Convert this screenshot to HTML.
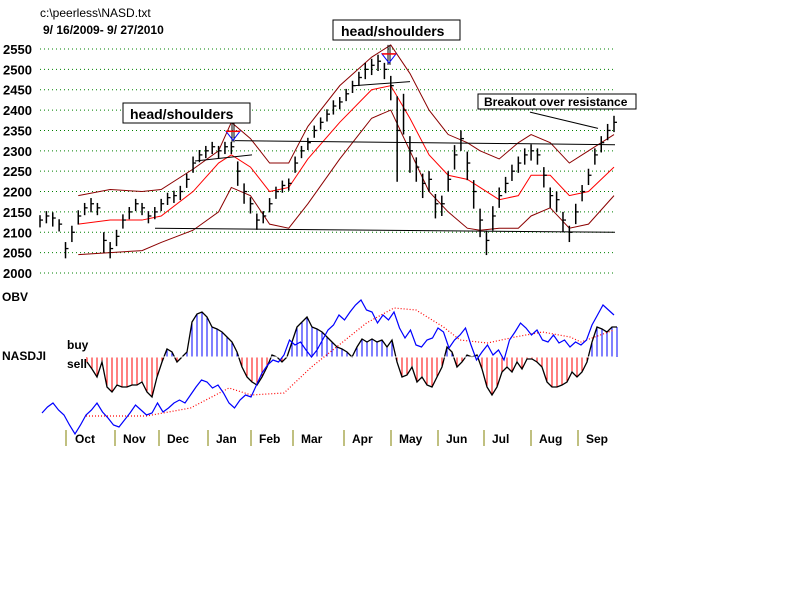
<!DOCTYPE html>
<html><head><meta charset="utf-8"><style>
body{margin:0;background:#fff;}
svg{display:block;font-family:"Liberation Sans",sans-serif;}
</style></head><body>
<svg id="c" width="800" height="600">
<rect width="800" height="600" fill="#fff"/>
<text x="40" y="17" font-size="12">c:\peerless\NASD.txt</text>
<text x="43" y="34" font-size="12" font-weight="bold">9/ 16/2009- 9/ 27/2010</text>
<g id="grid"></g>
<g id="bands"></g>
<g id="lines"></g>
<g id="bars"></g>
<g id="lower"></g>
<rect x="123" y="103" width="127" height="20" fill="#fff" stroke="#000"/>
<text x="130" y="119" font-size="14" font-weight="bold">head/shoulders</text>
<rect x="333" y="20" width="127" height="20" fill="#fff" stroke="#000"/>
<text x="341" y="36" font-size="14" font-weight="bold">head/shoulders</text>
<rect x="478" y="94" width="158" height="15" fill="#fff" stroke="#000"/>
<text x="484" y="106" font-size="12" font-weight="bold">Breakout over resistance</text>
<text x="2" y="301" font-size="12" font-weight="bold">OBV</text>
<text x="2" y="360" font-size="12" font-weight="bold">NASDJI</text>
<text x="67" y="349" font-size="12" font-weight="bold">buy</text>
<text x="67" y="368" font-size="12" font-weight="bold">sell</text>
</svg>
<script>
const yTicks=[2550,2500,2450,2400,2350,2300,2250,2200,2150,2100,2050,2000];
const closes=[2130,2140,2135,2120,2060,2100,2140,2160,2170,2160,2080,2060,2090,2130,2150,2170,2160,2140,2150,2170,2185,2190,2200,2230,2270,2290,2300,2310,2300,2310,2310,2250,2200,2170,2130,2140,2170,2200,2215,2220,2270,2300,2320,2350,2370,2390,2410,2420,2440,2460,2480,2500,2510,2520,2500,2460,2350,2400,2300,2260,2220,2230,2170,2170,2230,2290,2330,2270,2200,2130,2080,2140,2190,2220,2250,2270,2290,2300,2290,2240,2190,2180,2130,2100,2150,2200,2240,2290,2320,2350,2370];
const ranges=[30,30,35,30,40,40,35,30,35,30,50,40,40,35,30,30,30,30,30,30,30,30,35,35,40,30,30,30,30,30,30,60,50,40,40,30,35,30,30,30,40,30,30,30,30,30,35,30,30,30,35,40,40,40,40,60,210,100,90,60,60,50,60,50,50,60,50,70,70,70,60,60,50,40,40,40,40,40,40,50,50,50,50,40,50,40,40,40,40,40,40];
const bandDays=[6,11,16,19,24,28,30,33,36,39,42,47,52,55,58,61,64,67,69,72,75,77,80,83,86,90];
const midBand=[2120,2130,2130,2140,2200,2270,2290,2260,2200,2210,2280,2370,2450,2460,2380,2290,2240,2230,2210,2180,2190,2240,2240,2190,2200,2260];
const upperBand=[2190,2205,2200,2205,2255,2300,2370,2330,2270,2270,2360,2460,2530,2560,2490,2400,2340,2320,2300,2280,2320,2340,2320,2270,2300,2340];
const lowerBand=[2045,2050,2055,2075,2105,2150,2210,2190,2120,2110,2170,2280,2380,2400,2300,2200,2150,2110,2105,2110,2110,2140,2160,2110,2120,2190];
const nasdji=[-5,-12,-20,-5,-30,-35,-28,-30,-30,-28,-28,-25,-35,-40,-20,-5,8,5,-5,0,5,35,43,45,40,30,28,25,20,15,5,-10,-20,-25,-28,-20,-10,2,0,-5,0,15,30,35,40,30,28,25,20,15,10,8,5,0,10,18,15,18,15,17,10,17,-5,-20,-18,-10,-25,-20,-28,-30,-20,-10,10,5,-10,-5,2,0,2,-12,-30,-38,-30,-15,-10,-15,-5,-12,-2,-2,-5,-10,-25,-30,-30,-28,-25,-15,-20,-15,-5,15,30,28,25,30,30];
const obv=[27,33,37,30,25,15,6,15,25,30,37,28,22,15,13,20,27,35,30,25,27,37,28,32,37,40,37,45,53,60,58,52,55,47,37,32,40,45,43,55,67,75,80,78,85,100,95,98,90,83,90,100,110,115,125,120,128,135,140,130,128,117,125,120,128,112,102,110,95,93,100,102,112,108,92,100,105,112,95,80,88,95,85,90,80,100,108,117,112,105,110,100,98,105,97,100,93,98,95,100,115,125,135,130,125];
const obvMA=[24,24,32,52,45,47,73,95,117,132,130,113,100,97,103,108,103,98,110];
const obvMADays=[8,19,27,34,38,44,49,54,59,64,68,73,76,81,86,91,96,98,104];
const months=["Oct","Nov","Dec","Jan","Feb","Mar","Apr","May","Jun","Jul","Aug","Sep"];
const monthTicks=[66,115,159,208,251,293,344,391,438,484,531,578];

const NS="http://www.w3.org/2000/svg";
function mk(t,p,a){const e=document.createElementNS(NS,t);for(const k in a)e.setAttribute(k,a[k]);p.appendChild(e);return e;}
const py=v=>49+(2550-v)*224/550;
const px=i=>40+i*574/(closes.length-1);
const G=document.getElementById('grid'),B=document.getElementById('bands'),L=document.getElementById('lines'),BR=document.getElementById('bars'),LW=document.getElementById('lower');
yTicks.forEach(v=>{
 const l=mk('line',G,{x1:40,x2:615,y1:py(v),y2:py(v),stroke:'#008000','stroke-dasharray':'1 3','stroke-width':1});
 
 
 const t=mk('text',G,{x:3,y:py(v)+5,'font-size':13,'font-weight':'bold'});t.textContent=v;
 
 
});
function band(arr,col,name){
 const p=mk('polyline',B,{points:arr.map((v,k)=>px(bandDays[k])+','+py(v)).join(' '),fill:'none',stroke:col,'stroke-width':1});
 
 
}
band(upperBand,'#8b0000','upper-band');band(midBand,'#ff0000','middle-band');band(lowerBand,'#8b0000','lower-band');
[[235,2325,615,2315,'resistance-line'],[155,2110,615,2100,'support-line'],[195,2275,252,2290,'left-neckline'],[355,2460,410,2470,'head-neckline'],[530,2395,598,2355,'breakout-pointer']].forEach(s=>{
 const l=mk('line',L,{x1:s[0],y1:py(s[1]),x2:s[2],y2:py(s[3]),stroke:'#000','stroke-width':1});
 
 
});
[[233,2370],[389,2560]].forEach(a=>{
 const g=mk('g',L,{});
 
 
 mk('line',g,{x1:a[0]-1,x2:a[0]-1,y1:py(a[1]),y2:py(a[1])+20,stroke:'#000'});
 mk('line',g,{x1:a[0]+1,x2:a[0]+1,y1:py(a[1]),y2:py(a[1])+20,stroke:'#000'});
 mk('polygon',g,{points:(a[0]-7)+','+(py(a[1])+9)+' '+(a[0]+7)+','+(py(a[1])+9)+' '+a[0]+','+(py(a[1])+18),fill:'none',stroke:'#00f'});
 mk('line',g,{x1:a[0]-7,x2:a[0]+7,y1:py(a[1])+9,y2:py(a[1])+9,stroke:'#f00','stroke-width':1.5});
});
closes.forEach((c,i)=>{
 const r=ranges[i],hi=c+r*0.4,lo=c-r*0.6,x=px(i);
 const b=mk('line',BR,{x1:x,x2:x,y1:py(hi),y2:py(lo),stroke:'#000','stroke-width':1.5});
 
 
 const t=mk('line',BR,{x1:x,x2:x+3,y1:py(c),y2:py(c),stroke:'#000','stroke-width':1.3});
 
 
});
const base=357;
const hx=i=>87+i*5;
nasdji.forEach((v,i)=>{
 const b=mk('line',LW,{x1:hx(i),x2:hx(i),y1:base,y2:base-v,stroke:v>=0?'#0000ff':'#ff0000','stroke-width':1});
 
 
});
const hl=mk('polyline',LW,{points:nasdji.map((v,i)=>hx(i)+','+(base-v)).join(' '),fill:'none',stroke:'#000','stroke-width':1.3});


const bl=mk('line',LW,{x1:87,x2:615,y1:base,y2:base,stroke:'#fff','stroke-width':1});


const ox=i=>42+i*572/(obv.length-1);
const oy=v=>440-v;
const ma=mk('polyline',LW,{points:obvMA.map((v,k)=>ox(obvMADays[k])+','+oy(v)).join(' '),fill:'none',stroke:'#ff0000','stroke-dasharray':'1 2','stroke-width':1.2});


const ob=mk('polyline',LW,{points:obv.map((v,i)=>ox(i)+','+oy(v)).join(' '),fill:'none',stroke:'#0000ff','stroke-width':1.2});


months.forEach((m,i)=>{
 const t=mk('line',LW,{x1:monthTicks[i],x2:monthTicks[i],y1:430,y2:446,stroke:'#808000','stroke-width':1});
 
 
 const s=mk('text',LW,{x:monthTicks[i]+(i==0?9:8),y:443,'font-size':12,'font-weight':'bold'});s.textContent=m;
 
 
});
</script>
</body></html>
